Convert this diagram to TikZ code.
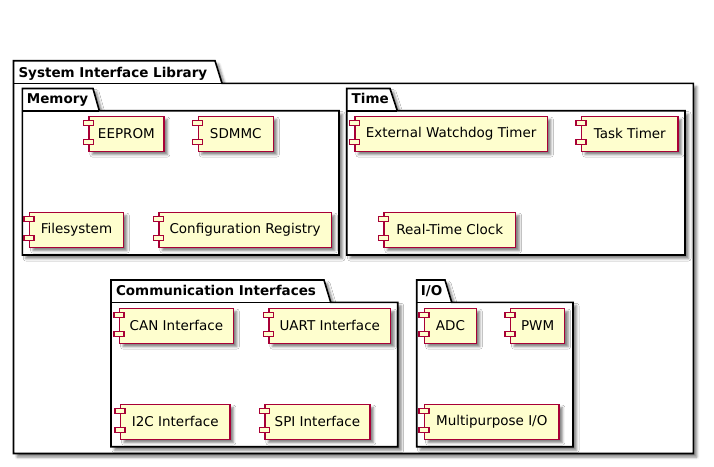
\documentclass[tikz,border=0pt]{standalone}
\usepackage{fontspec}
\setmainfont{DejaVu Sans}
\usetikzlibrary{shadows.blur}
\definecolor{compfill}{HTML}{FEFECE}
\definecolor{compline}{HTML}{A80036}
\newcommand\ports[1]{%
  \draw[port] ([shift={(-5,5)}]#1.north west) rectangle ++(10,5);
  \draw[port] ([shift={(-5,24)}]#1.north west) rectangle ++(10,5);}
\begin{document}
\begin{tikzpicture}[x=1pt,y=-1pt,
  shad/.style={blur shadow={shadow xshift=3.5pt, shadow yshift=-3.5pt, shadow blur radius=2.5pt, shadow opacity=50}},
  comp/.style={draw=compline, fill=compfill, line width=1.2pt, minimum height=35pt,
    anchor=north west, inner sep=0pt, font=\fontsize{13.5}{16}\selectfont, shad},
  port/.style={draw=compline, fill=compfill, line width=1.2pt},
  pkg/.style={draw=black, fill=white, line width=1.6pt, line join=miter, shad},
  sep/.style={draw=black, line width=1.6pt},
  ptitle/.style={anchor=base west, inner sep=0pt, font=\bfseries\fontsize{13.5}{16}\selectfont}]
\useasboundingbox (0,0) rectangle (714,466);
% outer package
\path[pkg] (13.5,60.7) -- (215,60.7) -- (222,83.3) -- (693.3,83.3) -- (693.3,453.5) -- (13.5,453.5) -- cycle;
\path[sep] (13.5,83.3) -- (222,83.3);
\node[ptitle] (tsil) at (18.3,77) {System Interface Library};
% Memory
\path[pkg] (22.3,88.5) -- (93,88.5) -- (99.3,110.7) -- (339,110.7) -- (339,255) -- (22.3,255) -- cycle;
\path[sep] (22.3,110.7) -- (99.3,110.7);
\node[ptitle] (tmem) at (26.7,103.5) {Memory};
% Time
\path[pkg] (346.7,88.5) -- (390,88.5) -- (397.3,110.7) -- (685,110.7) -- (685,255) -- (346.7,255) -- cycle;
\path[sep] (346.7,110.7) -- (397.3,110.7);
\node[ptitle] (ttime) at (351.5,103.5) {Time};
% Communication Interfaces
\path[pkg] (111,280) -- (324,280) -- (330.7,302.3) -- (397.7,302.3) -- (397.7,446.7) -- (111,446.7) -- cycle;
\path[sep] (111,302.3) -- (330.7,302.3);
\node[ptitle] (tcomm) at (115.8,295) {Communication Interfaces};
% I/O
\path[pkg] (416.7,280) -- (445,280) -- (451.7,302.3) -- (573,302.3) -- (573,446.7) -- (416.7,446.7) -- cycle;
\path[sep] (416.7,302.3) -- (451.7,302.3);
\node[ptitle] (tio) at (420.7,295) {I/O};
% components
\node[comp, minimum width=75pt] (eeprom) at (88.3,115.5) {EEPROM};
\node[comp, minimum width=75pt] (sdmmc) at (197.7,115.5) {SDMMC};
\node[comp, minimum width=93.7pt] (fs) at (29,211.5) {Filesystem};
\node[comp, minimum width=172.4pt] (cfg) at (158.3,211.5) {Configuration Registry};
\node[comp, minimum width=192.4pt] (ewd) at (354.3,115.5) {External Watchdog Timer};
\node[comp, minimum width=96.3pt] (tt) at (581,115.5) {Task Timer};
\node[comp, minimum width=131.7pt] (rtc) at (383.3,211.5) {Real-Time Clock};
\node[comp, minimum width=113.7pt] (can) at (119,307.5) {CAN Interface};
\node[comp, minimum width=121.7pt] (uart) at (268.3,307.5) {UART Interface};
\node[comp, minimum width=109.3pt] (i2c) at (120,403.5) {I2C Interface};
\node[comp, minimum width=105pt] (spi) at (264.3,403.5) {SPI Interface};
\node[comp, minimum width=51.7pt] (adc) at (424,307.5) {ADC};
\node[comp, minimum width=54pt] (pwm) at (510,307.5) {PWM};
\node[comp, minimum width=134.3pt] (mpio) at (424,403.5) {Multipurpose I/O};
\foreach \n in {eeprom,sdmmc,fs,cfg,ewd,tt,rtc,can,uart,i2c,spi,adc,pwm,mpio} {\ports{\n}}
\end{tikzpicture}
\end{document}
